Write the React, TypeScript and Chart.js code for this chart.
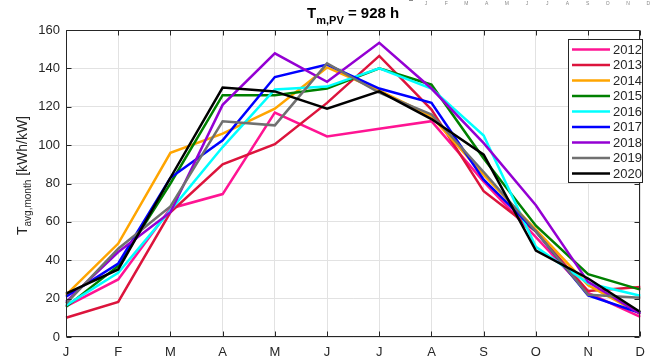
import React, { useEffect, useRef } from "react";
import { Chart, registerables } from "chart.js";

Chart.register(...registerables);

const FONT = "'Liberation Sans', Arial, sans-serif";

const months = ["J", "F", "M", "A", "M", "J", "J", "A", "S", "O", "N", "D"];
const years = ["2012", "2013", "2014", "2015", "2016", "2017", "2018", "2019", "2020"];
const colors = ["#FF1493", "#DC143C", "#FFA500", "#008000", "#00FFFF", "#0000FF", "#9400D3", "#707070", "#000000"];

const y2012 = [16, 30, 67, 74.5, 117, 104.5, 108.5, 112.5, 81, 52, 23, 10.5];
const y2013 = [10, 18.3, 65, 90, 100.5, 122, 146.5, 118.5, 76, 55, 24, 26];
const y2014 = [22, 48.7, 96, 106, 119, 140.5, 128.5, 115, 84.5, 56, 27, 12];
const y2015 = [15.7, 37, 80, 126, 126, 129.5, 140, 131.5, 93, 58, 32.7, 24.7];
const y2016 = [16.5, 33.4, 66, 99, 129, 130.5, 140, 129.5, 105, 47, 28, 21.5];
const y2017 = [21, 38.3, 83, 102.5, 135.5, 142, 129.5, 122, 82, 55, 21.7, 12.5];
const y2018 = [18.3, 44.3, 65, 121, 147.8, 133, 153.3, 129.5, 101, 68.7, 28.7, 12];
const y2019 = [17.4, 46, 68, 112.4, 110.3, 142.6, 127.3, 116, 86, 55, 22, 20.4];
const y2020 = [22.6, 35.2, 83, 130, 128, 119, 128, 113.6, 95, 45, 30.5, 13];
const series = [y2012, y2013, y2014, y2015, y2016, y2017, y2018, y2019, y2020];

const yMin = 0;
const yMax = 160;
const yStep = 20;

const titleMain = "T";
const titleSub = "m,PV";
const titleRest = " = 928 h";
const yLabelMain = "T";
const yLabelSub = "avg,month";
const yLabelRest = " [kWh/kW]";

const decorPlugin = {
  id: "decor",
  afterDraw(chart: any) {
    const ctx = chart.ctx as CanvasRenderingContext2D;
    const ca = chart.chartArea;
    const xs = chart.scales.x;
    const ys = chart.scales.y;
    ctx.save();
    ctx.strokeStyle = "#262626";
    ctx.lineWidth = 1;
    const L = Math.round(ca.left) + 0.5;
    const R = Math.round(ca.right) - 0.5;
    const T = Math.round(ca.top) + 0.5;
    const B = Math.round(ca.bottom) - 0.5;
    ctx.beginPath();
    ctx.moveTo(L, T);
    ctx.lineTo(R, T);
    ctx.lineTo(R, B);
    ctx.lineTo(L, B);
    ctx.closePath();
    ctx.stroke();
    const tl = 5;
    ctx.beginPath();
    months.forEach((_, i) => {
      const x = Math.round(xs.getPixelForValue(i)) + 0.5;
      ctx.moveTo(x, B);
      ctx.lineTo(x, B - tl);
      ctx.moveTo(x, T);
      ctx.lineTo(x, T + tl);
    });
    for (let v = yMin; v <= yMax; v += yStep) {
      const y = Math.round(ys.getPixelForValue(v)) + 0.5;
      ctx.moveTo(L, y);
      ctx.lineTo(L + tl, y);
      ctx.moveTo(R, y);
      ctx.lineTo(R - tl, y);
    }
    ctx.stroke();

    // title
    ctx.fillStyle = "#000";
    ctx.textBaseline = "alphabetic";
    ctx.textAlign = "left";
    const mainFont = `bold 15px ${FONT}`;
    const subFont = `bold 11px ${FONT}`;
    ctx.font = mainFont;
    const w1 = ctx.measureText(titleMain).width;
    const w3 = ctx.measureText(titleRest).width;
    ctx.font = subFont;
    const w2 = ctx.measureText(titleSub).width;
    const cx = (ca.left + ca.right) / 2;
    const x0 = cx - (w1 + w2 + w3) / 2;
    ctx.font = mainFont;
    ctx.fillText(titleMain, x0, 18);
    ctx.font = subFont;
    ctx.fillText(titleSub, x0 + w1, 24);
    ctx.font = mainFont;
    ctx.fillText(titleRest, x0 + w1 + w2, 18);

    // y label
    ctx.save();
    ctx.translate(27, (ca.top + ca.bottom) / 2 - 8);
    ctx.rotate(-Math.PI / 2);
    ctx.fillStyle = "#262626";
    const ym = `14px ${FONT}`;
    const ysub = `10px ${FONT}`;
    ctx.font = ym;
    const a1 = ctx.measureText(yLabelMain).width;
    const a3 = ctx.measureText(yLabelRest).width;
    ctx.font = ysub;
    const a2 = ctx.measureText(yLabelSub).width;
    const sx = -(a1 + a2 + a3) / 2;
    ctx.font = ym;
    ctx.fillText(yLabelMain, sx, 0);
    ctx.font = ysub;
    ctx.fillText(yLabelSub, sx + a1, 4);
    ctx.font = ym;
    ctx.fillText(yLabelRest, sx + a1 + a2, 0);
    ctx.restore();

    // tiny stray labels at top right
    ctx.fillStyle = "#8a8a8a";
    ctx.font = `5px ${FONT}`;
    ctx.textAlign = "center";
    ctx.textBaseline = "middle";
    months.forEach((m, i) => {
      ctx.fillText(m, 426 + i * 20.2, 4);
    });
    ctx.strokeStyle = "#8a8a8a";
    ctx.beginPath();
    ctx.moveTo(409, 0.5);
    ctx.lineTo(413, 0.5);
    ctx.stroke();

    // legend
    const lx = 568.5, ly = 39.5, lw = 74, lh = 143;
    ctx.fillStyle = "#fff";
    ctx.fillRect(lx, ly, lw, lh);
    ctx.strokeStyle = "#262626";
    ctx.lineWidth = 1;
    ctx.strokeRect(lx, ly, lw, lh);
    ctx.font = `13px ${FONT}`;
    ctx.textAlign = "left";
    ctx.textBaseline = "middle";
    years.forEach((yr, i) => {
      const yy = 49.5 + i * 15.5;
      ctx.strokeStyle = colors[i];
      ctx.lineWidth = 2.5;
      ctx.beginPath();
      ctx.moveTo(572, yy);
      ctx.lineTo(610, yy);
      ctx.stroke();
      ctx.fillStyle = "#262626";
      ctx.fillText(yr, 613, yy + 0.5);
    });
    ctx.restore();
  },
};

export default function App() {
  const ref = useRef<HTMLCanvasElement | null>(null);
  useEffect(() => {
    if (!ref.current) return;
    const chart = new Chart(ref.current, {
      type: "line",
      data: {
        labels: months,
        datasets: years.map((yr, i) => ({
          label: yr,
          data: series[i],
          borderColor: colors[i],
          backgroundColor: colors[i],
          borderWidth: 2.5,
          pointRadius: 0,
          tension: 0,
          fill: false,
          order: years.length - 1 - i,
        })),
      },
      options: {
        responsive: false,
        animation: false,
        devicePixelRatio: 1,
        layout: { padding: { top: 30, right: 1, left: 0, bottom: 0 } },
        plugins: {
          legend: { display: false },
          tooltip: { enabled: false },
          title: { display: false },
        },
        scales: {
          x: {
            type: "category",
            offset: false,
            grid: { color: "#e2e2e2", drawTicks: false, lineWidth: 1 },
            border: { display: false },
            ticks: {
              padding: 8,
              color: "#262626",
              font: { family: FONT, size: 13 },
              maxRotation: 0,
              autoSkip: false,
            },
            afterFit: (s: any) => {
              s.height = 26;
            },
          },
          y: {
            min: yMin,
            max: yMax,
            grid: { color: "#e2e2e2", drawTicks: false, lineWidth: 1 },
            border: { display: false },
            ticks: {
              stepSize: yStep,
              padding: 6,
              color: "#262626",
              font: { family: FONT, size: 13 },
            },
            afterFit: (s: any) => {
              s.width = 66;
            },
          },
        },
      },
      plugins: [decorPlugin],
    });
    return () => chart.destroy();
  }, []);
  return (
    <div style={{ position: "absolute", left: 0, top: 0, width: 653, height: 363, background: "#fff" }}>
      <canvas ref={ref} width={653} height={363} />
    </div>
  );
}
